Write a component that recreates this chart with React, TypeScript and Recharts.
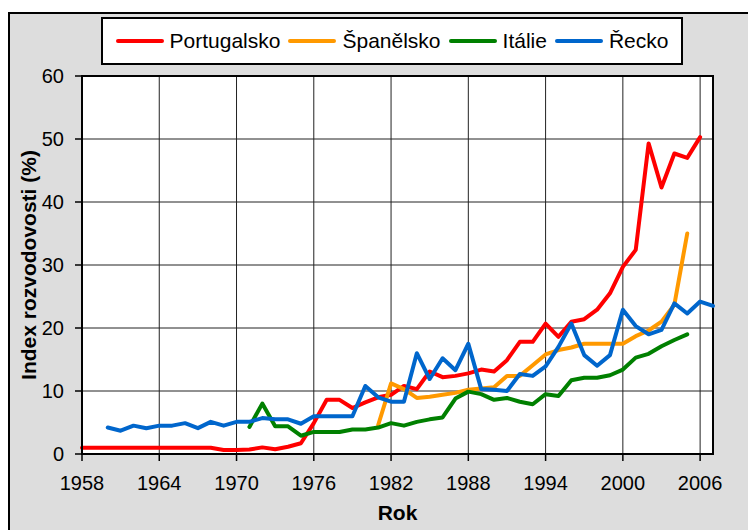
import React from 'react';
import { LineChart, Line, XAxis, YAxis, CartesianGrid, ReferenceArea } from 'recharts';

const years = [
  1958, 1959, 1960, 1961, 1962, 1963, 1964, 1965, 1966, 1967,
  1968, 1969, 1970, 1971, 1972, 1973, 1974, 1975, 1976, 1977,
  1978, 1979, 1980, 1981, 1982, 1983, 1984, 1985, 1986, 1987,
  1988, 1989, 1990, 1991, 1992, 1993, 1994, 1995, 1996, 1997,
  1998, 1999, 2000, 2001, 2002, 2003, 2004, 2005, 2006, 2007,
];

const portugalsko = [
  1.0, 1.0, 1.0, 1.0, 1.0, 1.0, 1.0, 1.0, 1.0, 1.0,
  1.0, 0.65, 0.65, 0.7, 1.05, 0.75, 1.15, 1.7, 4.9, 8.6,
  8.6, 7.3, 8.2, 9.0, 9.4, 10.8, 10.3, 13.1, 12.2, 12.4,
  12.8, 13.4, 13.1, 14.9, 17.8, 17.8, 20.7, 18.6, 21.0, 21.4,
  22.9, 25.5, 29.7, 32.4, 49.3, 42.3, 47.7, 47.0, 50.3, null,
];

const spanelsko = [
  null, null, null, null, null, null, null, null, null, null,
  null, null, null, null, null, null, null, null, null, null,
  null, null, null, 4.6, 11.2, 10.3, 8.9, 9.1, 9.4, 9.7,
  10.2, 10.4, 10.6, 12.4, 12.4, 14.1, 15.8, 16.5, 16.9, 17.5,
  17.5, 17.5, 17.5, 18.7, 19.6, 21.0, 23.7, 35.0, null, null,
];

const italie = [
  null, null, null, null, null, null, null, null, null, null,
  null, null, null, 4.3, 8.0, 4.4, 4.4, 2.9, 3.5, 3.5,
  3.5, 3.9, 3.9, 4.2, 4.9, 4.5, 5.1, 5.5, 5.8, 8.8,
  9.9, 9.5, 8.6, 8.9, 8.3, 7.9, 9.5, 9.2, 11.7, 12.1,
  12.1, 12.5, 13.4, 15.3, 15.9, 17.1, 18.1, 19.0, null, null,
];

const recko = [
  null, null, 4.2, 3.7, 4.5, 4.1, 4.5, 4.5, 4.9, 4.1,
  5.1, 4.5, 5.1, 5.1, 5.7, 5.5, 5.5, 4.8, 6.0, 6.0,
  6.0, 6.0, 10.8, 9.0, 8.3, 8.3, 16.0, 11.9, 15.2, 13.3,
  17.5, 10.3, 10.2, 10.0, 12.7, 12.4, 13.9, 17.0, 20.7, 15.7,
  14.0, 15.7, 22.9, 20.3, 19.0, 19.7, 23.9, 22.3, 24.2, 23.5,
];

const xTicks = [1958, 1964, 1970, 1976, 1982, 1988, 1994, 2000, 2006];
const yTicks = [0, 10, 20, 30, 40, 50, 60];

const series = [
  { key: 'portugalsko', name: 'Portugalsko', color: '#ff0000' },
  { key: 'spanelsko', name: 'Španělsko', color: '#ff9900' },
  { key: 'italie', name: 'Itálie', color: '#008000' },
  { key: 'recko', name: 'Řecko', color: '#0066cc' },
];

const data = years.map((rok, i) => ({
  rok,
  portugalsko: portugalsko[i],
  spanelsko: spanelsko[i],
  italie: italie[i],
  recko: recko[i],
}));

const font = '"Liberation Sans", Arial, sans-serif';

const YTitle = ({ viewBox }: any) => (
  <text
    x={viewBox.x + 18}
    y={viewBox.y + viewBox.height / 2}
    transform={`rotate(-90, ${viewBox.x + 18}, ${viewBox.y + viewBox.height / 2})`}
    textAnchor="middle"
    dominantBaseline="central"
    fontFamily={font}
    fontWeight="bold"
    fontSize={21}
    fill="#000"
  >
    Index rozvodovosti (%)
  </text>
);

const XTitle = ({ viewBox }: any) => (
  <text
    x={viewBox.x + viewBox.width / 2}
    y={viewBox.y + 58}
    textAnchor="middle"
    dominantBaseline="central"
    fontFamily={font}
    fontWeight="bold"
    fontSize={21}
    fill="#000"
  >
    Rok
  </text>
);

export default function App() {
  return (
    <div
      style={{
        position: 'absolute',
        left: 8,
        top: 12,
        width: 740,
        height: 518,
        boxSizing: 'border-box',
        borderLeft: '2px solid #000',
        borderTop: '2px solid #000',
        background: '#dddddd',
        overflow: 'hidden',
        fontFamily: font,
      }}
    >
      <div
        style={{
          position: 'absolute',
          left: 91,
          top: 3,
          width: 582,
          height: 48,
          boxSizing: 'border-box',
          border: '2px solid #000',
          background: '#fff',
          display: 'flex',
          alignItems: 'center',
          justifyContent: 'center',
          fontSize: 21,
          zIndex: 2,
        }}
      >
        {series.map((s) => (
          <div key={s.key} style={{ display: 'flex', alignItems: 'center', margin: '0 4px' }}>
            <div style={{ width: 48, height: 4, borderRadius: 2, background: s.color, marginRight: 6 }} />
            <span>{s.name}</span>
          </div>
        ))}
      </div>
      <LineChart
        width={738}
        height={516}
        data={data}
        margin={{ top: 62, right: 35, left: 0, bottom: 0 }}
      >
        <CartesianGrid stroke="#222" strokeWidth={1} fill="#fff" vertical horizontal />
        <XAxis
          dataKey="rok"
          type="number"
          domain={[1958, 2007]}
          ticks={xTicks}
          interval={0}
          height={76}
          tickSize={7}
          tickMargin={15}
          axisLine={{ stroke: '#000', strokeWidth: 2 }}
          tickLine={{ stroke: '#000', strokeWidth: 1.5 }}
          tick={{ fill: '#000', fontSize: 20, fontFamily: font }}
          label={{ content: XTitle }}
        />
        <YAxis
          type="number"
          domain={[0, 60]}
          ticks={yTicks}
          interval={0}
          width={72}
          tickSize={7}
          tickMargin={11}
          axisLine={{ stroke: '#000', strokeWidth: 2 }}
          tickLine={{ stroke: '#000', strokeWidth: 1.5 }}
          tick={{ fill: '#000', fontSize: 20, fontFamily: font }}
          label={{ content: YTitle }}
        />
        <ReferenceArea
          x1={1958}
          x2={2007}
          y1={0}
          y2={60}
          fill="none"
          fillOpacity={0}
          stroke="#000"
          strokeWidth={2}
        />
        {series.map((s) => (
          <Line
            key={s.key}
            type="linear"
            dataKey={s.key}
            name={s.name}
            stroke={s.color}
            strokeWidth={4}
            strokeLinejoin="round"
            strokeLinecap="round"
            dot={false}
            activeDot={false}
            isAnimationActive={false}
          />
        ))}
      </LineChart>
    </div>
  );
}
